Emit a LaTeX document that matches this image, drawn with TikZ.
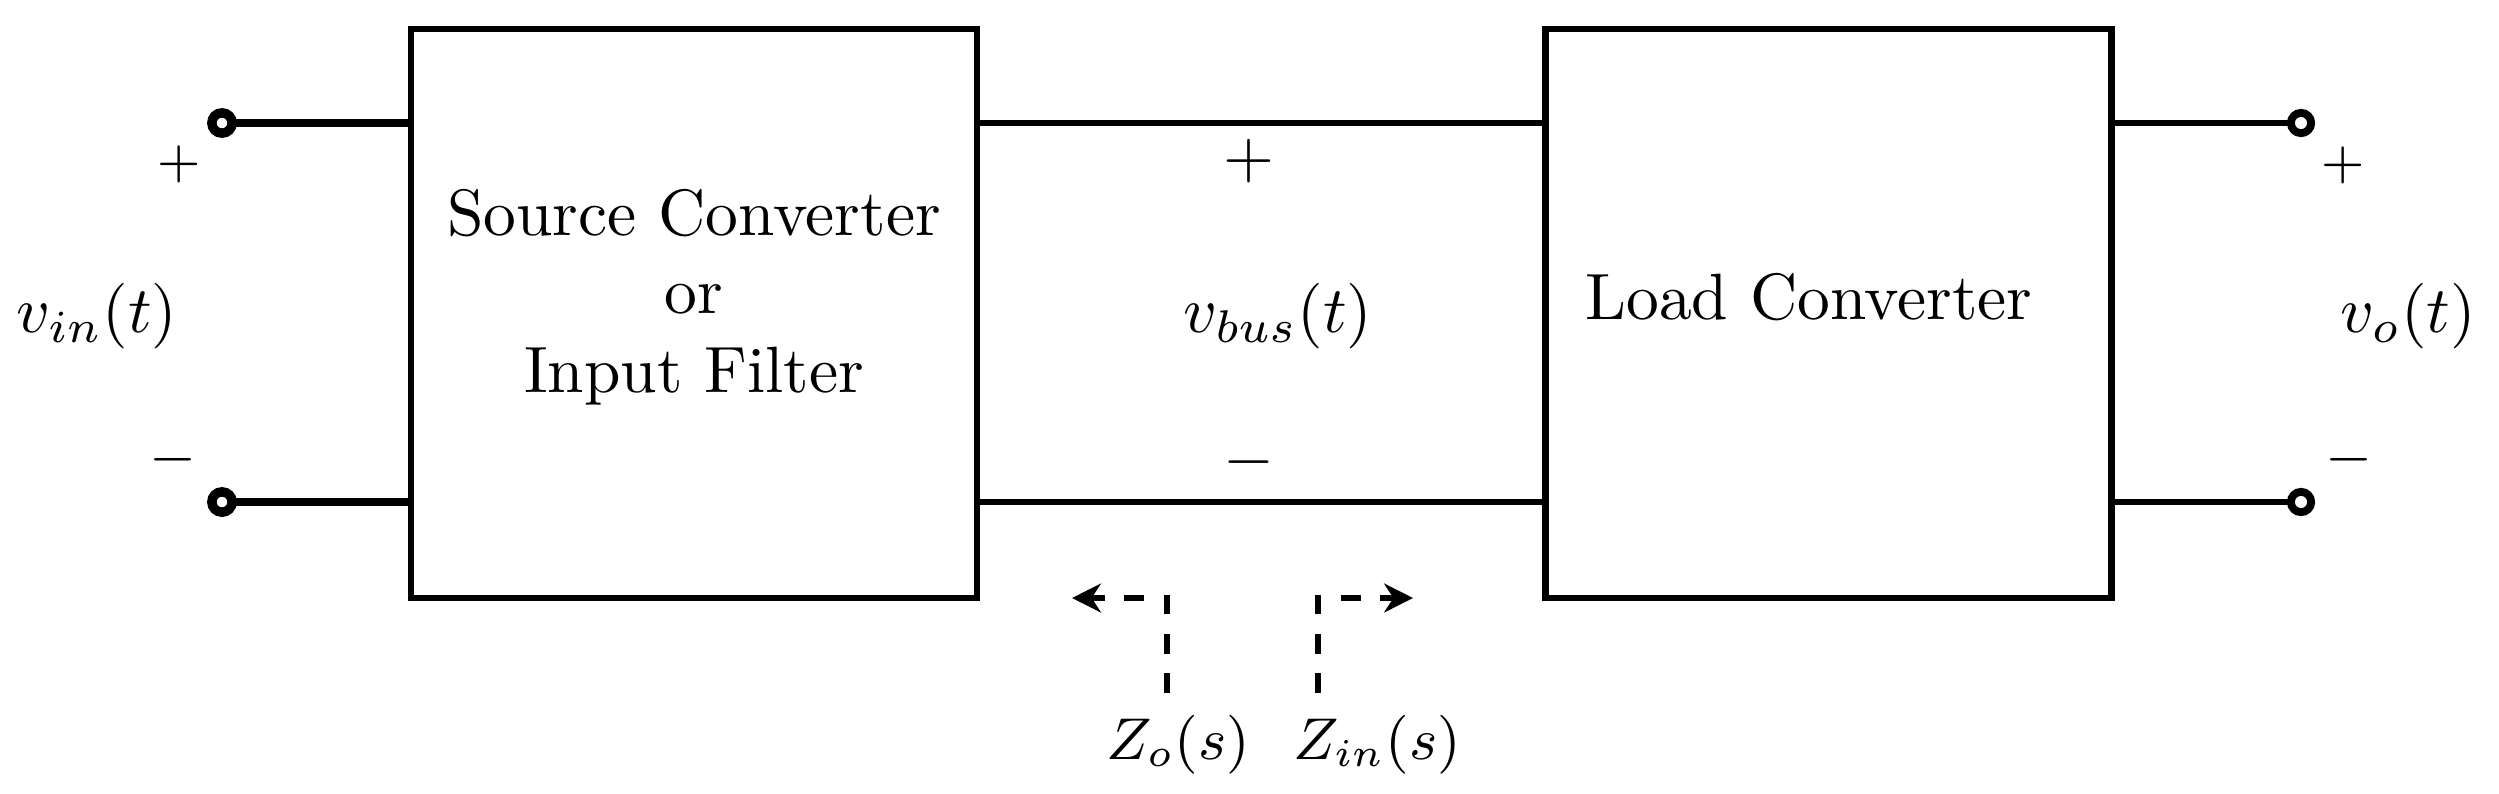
\documentclass[tikz,border=0pt]{standalone}
\usetikzlibrary{arrows.meta}
\begin{document}
\begin{tikzpicture}[x=0.15266pt,y=-0.15266pt,
  blockbox/.style={draw,line width=0.95pt,inner sep=0pt,outer sep=0pt,
     minimum width=86.4pt,minimum height=86.9pt},
  term/.style={draw,circle,fill=white,inner sep=0pt,outer sep=0pt,minimum size=3.1pt},
  termL/.style={term,line width=1.45pt},
  termR/.style={term,line width=1.2pt},
  thickwire/.style={line width=1.25pt},
  wire/.style={line width=0.9pt},
  zarrow/.style={line width=0.95pt,dashed,-{Stealth[length=4.4pt,width=4.4pt,inset=1.4pt]}},
  lbl/.style={inner sep=0pt}]
\useasboundingbox (0,0) rectangle (2499,793);
% blocks
\node[blockbox] (src) at (694,313.5) {};
\node[blockbox] (load) at (1828.5,313.5) {};
\node[lbl,align=center] (srctext) at (694,297) {Source Converter\\or\\Input Filter};
\node[lbl] (loadtext) at (1809,297) {Load Converter};
% terminals
\node[termL] (inp) at (222,123) {};
\node[termL] (inn) at (222,502) {};
\node[termR] (outp) at (2301,123) {};
\node[termR] (outn) at (2301,502) {};
% wires
\draw[thickwire] (inp) -- (inp -| src.west);
\draw[thickwire] (inn) -- (inn -| src.west);
\draw[wire] (inp -| src.east) -- (inp -| load.west);
\draw[wire] (inn -| src.east) -- (inn -| load.west);
\draw[wire] (outp -| load.east) -- (outp);
\draw[wire] (outn -| load.east) -- (outn);
% voltage labels
\node[lbl] (pin) at (179,164) {\footnotesize$+$};
\node[lbl] (min) at (173,460) {\small$-$};
\node[lbl] (vin) at (97,316) {$v_{in}(t)$};
\node[lbl] (pbus) at (1249,161) {$+$};
\node[lbl] (mbus) at (1249,462) {$-$};
\node[lbl] (vbus) at (1278,316) {$v_{bus}(t)$};
\node[lbl] (pout) at (2343,165) {\footnotesize$+$};
\node[lbl] (mout) at (2349,460) {\small$-$};
\node[lbl] (vout) at (2408,316) {$v_{o}(t)$};
% impedance arrows
\coordinate (zob) at (1167,693);
\coordinate (zot) at (1072,598);
\coordinate (zib) at (1318,693);
\coordinate (zit) at (1413,598);
\draw[zarrow] (zob) |- (zot);
\draw[zarrow] (zib) |- (zit);
\node[lbl] (zo) at (1178,745) {\small$Z_o(s)$};
\node[lbl] (zi) at (1377,745) {\small$Z_{in}(s)$};
\end{tikzpicture}
\end{document}
